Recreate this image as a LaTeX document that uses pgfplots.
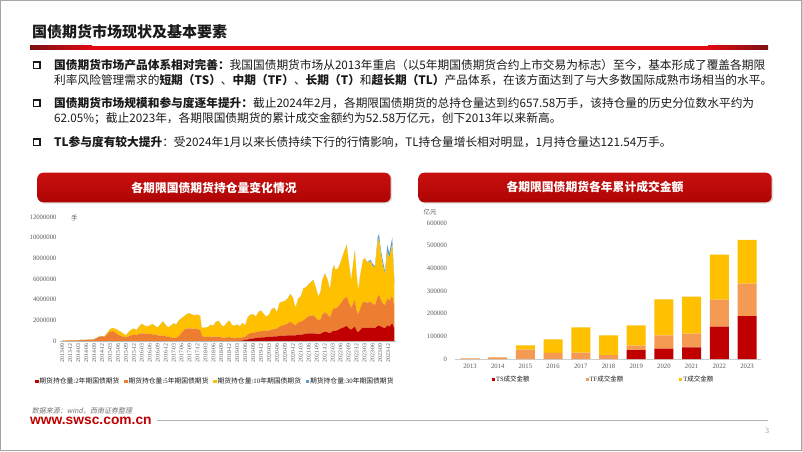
\documentclass[border=0pt]{standalone}
\usepackage{fontspec}
\usepackage{pgfplots}
\usepackage{pgfplotstable}
\pgfplotsset{compat=1.18}
\setmainfont{Liberation Serif}
\newfontfamily\cjk{Noto Sans CJK SC}
\newfontfamily\cjksl[FakeSlant=0.2]{Noto Sans CJK SC}
\newfontfamily\arial{Liberation Sans}
\newfontfamily\tnr{Liberation Serif}
\definecolor{cTS}{HTML}{C00000}
\definecolor{cTF}{HTML}{ED7D31}
\definecolor{cT}{HTML}{FFC000}
\definecolor{cTL}{HTML}{5B9BD5}
\definecolor{cTFb}{HTML}{F59A52}
\definecolor{txt}{HTML}{1A1A1A}
\definecolor{tickc}{HTML}{595959}
\definecolor{brightred}{HTML}{E10A14}
\definecolor{darkred}{HTML}{7A1212}
\definecolor{boxtop}{HTML}{C8100F}
\definecolor{boxbot}{HTML}{AE0404}

\pgfplotstableread{
m ts tf t tl
0 0 30000 20000 0
1 0 40000 20000 0
2 0 50000 20000 0
3 0 50000 20000 0
4 0 60000 20000 0
5 0 60000 20000 0
6 0 70000 20000 0
7 0 80000 20000 0
8 0 90000 20000 0
9 0 100000 20000 0
10 0 120000 20000 0
11 0 130000 20000 0
12 0 160000 20000 0
13 0 280000 20000 0
14 0 420000 30000 0
15 0 450000 30000 0
16 0 420000 60000 0
17 0 650000 150000 0
18 0 920000 230000 0
19 0 950000 300000 0
20 0 800000 380000 0
21 0 620000 430000 0
22 0 500000 400000 0
23 0 400000 320000 0
24 0 350000 200000 0
25 0 450000 400000 0
26 0 550000 550000 0
27 0 600000 600000 0
28 0 550000 500000 0
29 0 700000 700000 0
30 0 750000 900000 0
31 0 720000 780000 0
32 0 700000 700000 0
33 0 680000 820000 0
34 0 650000 1000000 0
35 0 620000 830000 0
36 0 550000 750000 0
37 0 500000 1100000 0
38 0 550000 1350000 0
39 0 450000 1100000 0
40 0 400000 900000 0
41 0 350000 1150000 0
42 0 300000 1400000 0
43 0 300000 1300000 0
44 0 450000 1550000 0
45 0 800000 1400000 0
46 0 1100000 1300000 0
47 0 1200000 1400000 0
48 0 1230000 1450000 0
49 0 1200000 1350000 0
50 0 1200000 1300000 0
51 0 1150000 1400000 0
52 0 1100000 1350000 0
52.6 0 600000 650000 0
53 0 450000 850000 0
54 0 400000 900000 0
55 0 400000 950000 0
56 0 420000 1150000 0
57 0 420000 1050000 0
58 0 420000 1450000 0
59 0 400000 1550000 0
60 0 350000 1200000 0
61 0 330000 1070000 0
62 0 350000 1400000 0
63 0 380000 1600000 0
64 0 300000 1250000 0
65 0 280000 1200000 0
66 0 300000 1300000 0
67 0 320000 1100000 0
68 50000 300000 1400000 0
69 100000 300000 1100000 0
70 150000 500000 1650000 0
71 200000 550000 1800000 0
72 250000 550000 1800000 0
73 280000 570000 1500000 0
74 300000 600000 1900000 0
75 350000 600000 2000000 0
76 350000 600000 1650000 0
77 380000 620000 1350000 0
78 400000 600000 1550000 0
79 420000 680000 2000000 0
80 450000 700000 2050000 0
81 450000 750000 1600000 0
82 480000 920000 2300000 0
83 500000 1000000 2300000 0
84 520000 1050000 2300000 0
85 540000 1150000 2400000 0
86 550000 1300000 2700000 0
87 550000 1150000 2500000 0
88 550000 950000 1700000 0
89 600000 1200000 2300000 0
90 620000 1230000 2450000 0
91 650000 1350000 3100000 0
92 700000 1500000 3000000 0
93 750000 1650000 3100000 0
94.7 750000 1750000 3400000 0
95.5 700000 1600000 3000000 0
96.6 650000 1350000 2300000 0
97.5 700000 1400000 2700000 0
98 800000 1700000 3300000 0
99.1 900000 1900000 3750000 0
100 850000 1750000 3400000 0
101 750000 1550000 2700000 0
102 950000 2050000 4000000 0
102.6 1000000 2200000 4150000 0
103 1000000 2100000 3800000 0
104 1050000 2250000 3700000 0
105 1200000 2400000 4000000 0
106 1300000 2700000 4400000 0
107.3 1450000 2850000 5000000 0
108 1250000 2550000 4000000 0
109 1100000 2100000 2700000 0
110.4 1400000 2600000 4800000 0
111 1000000 2000000 3500000 0
111.7 850000 1750000 2300000 0
112.5 1100000 2100000 3300000 0
113.5 1300000 2500000 4100000 0
114.2 1300000 2500000 4200000 0
115 1250000 2450000 3900000 50000
116.4 1300000 2500000 3900000 150000
117 1250000 2350000 3700000 200000
118 1250000 2250000 3600000 150000
119 1450000 2850000 5300000 400000
119.5 1500000 3000000 5400000 500000
120.2 1400000 2600000 4400000 400000
121 1300000 2300000 3700000 400000
121.8 1250000 2250000 2900000 300000
122.6 1500000 2600000 4600000 600000
123.4 1400000 2500000 4100000 500000
124.5 1700000 2700000 5000000 600000
125.3 1200000 2100000 2300000 300000
}\oidata

\pgfplotstableread{
i ts tf t
0 0 2500 500
1 0 7000 500
2 0 41000 19000
3 0 26500 60000
4 0 28000 111700
5 0 17600 86800
6 39700 19100 89700
7 45600 58800 158800
8 51500 60300 163200
9 142600 119200 198500
10 189700 142700 193400
}\amtdata

\begin{document}
\begin{tikzpicture}
\begin{scope}[x=1pt,y=1pt]
\useasboundingbox (0,0) rectangle (802,451);
\fill[white] (0,0) rectangle (802,451);
\draw[gray!70, line width=1pt] (0.5,0.5) rectangle (801.5,450.5);

% title
\node[anchor=west, inner sep=0pt, text=txt, font=\cjk\bfseries\fontsize{15}{18}\selectfont] at (32,419.3) {国债期货市场现状及基本要素};
\fill[brightred] (30,401.5) rectangle (768,405);
\shade[left color=darkred, right color=brightred] (30,401.5) rectangle (92,405);
\shade[left color=brightred, right color=darkred] (708,401.5) rectangle (768,405);

% bullets
\foreach \yy in {386,348,309} {\draw[txt, line width=1.4pt] (33.4,\yy-3.2) rectangle (39.8,\yy+3.2);}
\begin{scope}[every node/.style={anchor=west, inner sep=0pt, text=txt, font=\cjk\fontsize{11.7}{14}\selectfont}]
\node at (54,386) {\textbf{国债期货市场产品体系相对完善：}我国国债期货市场从2013年重启（以5年期国债期货合约上市交易为标志）至今，基本形成了覆盖各期限};
\node at (54,370.5) {利率风险管理需求的\textbf{短期（TS）}、\textbf{中期（TF）}、\textbf{长期（T）}和\textbf{超长期（TL）}产品体系，在该方面达到了与大多数国际成熟市场相当的水平。};
\node at (54,348) {\textbf{国债期货市场规模和参与度逐年提升：}截止2024年2月，各期限国债期货的总持仓量达到约657.58万手，该持仓量的历史分位数水平约为};
\node at (54,332.5) {62.05\%；截止2023年，各期限国债期货的累计成交金额约为52.58万亿元，创下2013年以来新高。};
\node at (54,309) {\textbf{TL参与度有较大提升}：受2024年1月以来长债持续下行的行情影响，TL持仓量增长相对明显，1月持仓量达121.54万手。};
\end{scope}

% chart title boxes
\fill[gray!25, rounded corners=6pt] (38.8,247.4) rectangle (392.2,277.0);
\shade[top color=boxtop, bottom color=boxbot, rounded corners=6pt] (37.3,248.7) rectangle (390.7,278.3);
\node[text=white, font=\cjk\bfseries\fontsize{11.8}{14}\selectfont] at (214,263.5) {各期限国债期货持仓量变化情况};
\fill[gray!25, rounded corners=6pt] (419.8,247.4) rectangle (773.2,277.0);
\shade[top color=boxtop, bottom color=boxbot, rounded corners=6pt] (418.3,248.7) rectangle (771.7,278.3);
\node[text=white, font=\cjk\bfseries\fontsize{11.8}{14}\selectfont] at (595,263.5) {各期限国债期货各年累计成交金额};

% unit labels
\node[text=tickc, font=\cjk\fontsize{6.5}{7}\selectfont] at (74.3,233.3) {手};
\node[text=tickc, font=\cjk\fontsize{6.5}{7}\selectfont] at (430,238.7) {亿元};

% footer
\node[anchor=west, inner sep=0pt, text=gray!90!black, font=\cjksl\fontsize{7}{8}\selectfont] at (31.7,40) {数据来源：wind，西南证券整理};
\node[anchor=west, inner sep=0pt, text=cTS, font=\arial\bfseries\fontsize{13.8}{15}\selectfont] at (30,30) {www.swsc.com.cn};
\draw[gray!60, line width=0.7pt] (157,30.3) -- (768,30.3);
\node[text=gray!80, font=\tnr\fontsize{8}{9}\selectfont] at (767,20.3) {3};
\end{scope}

% left chart
\begin{axis}[
  at={(59.65pt,110pt)}, anchor=south west,
  scale only axis, width=336.55pt, height=124pt,
  xmin=-1, xmax=126, ymin=0, ymax=12000000,
  scaled y ticks=false, scaled x ticks=false,
  stack plots=y, area style,
  axis lines*=left,
  x axis line style={draw=gray!55, line width=0.5pt, -},
  y axis line style={draw=none},
  major tick length=0pt,
  xtick={0,3,...,123},
  xticklabels={2013-09,2013-12,2014-03,2014-06,2014-09,2014-12,2015-03,2015-06,2015-09,2015-12,2016-03,2016-06,2016-09,2016-12,2017-03,2017-06,2017-09,2017-12,2018-03,2018-06,2018-09,2018-12,2019-03,2019-06,2019-09,2019-12,2020-03,2020-06,2020-09,2020-12,2021-03,2021-06,2021-09,2021-12,2022-03,2022-06,2022-09,2022-12,2023-03,2023-06,2023-09,2023-12},
  ytick={0,2000000,4000000,6000000,8000000,10000000,12000000},
  yticklabels={0,2000000,4000000,6000000,8000000,10000000,12000000},
  tick label style={text=tickc},
  xticklabel style={font=\tnr\fontsize{5.8}{6}\selectfont, rotate=90, anchor=east, inner xsep=2pt, inner ysep=0pt},
  yticklabel style={font=\tnr\fontsize{6.7}{7}\selectfont, anchor=east, inner sep=0pt, xshift=-3pt},
  legend columns=4,
  legend style={at={(-0.0732,-0.328)}, anchor=west, draw=none, fill=none, inner sep=0pt,
    font=\cjk\fontsize{6.8}{8}\selectfont, text=txt,
    /tikz/every even column/.append style={column sep=4pt},
    nodes={inner sep=0.8pt}},
  legend image code/.code={\fill[#1] (0pt,-1.7pt) rectangle (3.4pt,1.7pt);},
]
\addplot[draw=none, fill=cTS] table[x=m, y=ts] {\oidata} \closedcycle;
\addlegendentry{期货持仓量{\tnr :2}年期国债期货}
\addplot[draw=none, fill=cTF] table[x=m, y=tf] {\oidata} \closedcycle;
\addlegendentry{期货持仓量{\tnr :5}年期国债期货}
\addplot[draw=none, fill=cT] table[x=m, y=t] {\oidata} \closedcycle;
\addlegendentry{期货持仓量{\tnr :10}年期国债期货}
\addplot[draw=none, fill=cTL] table[x=m, y=tl] {\oidata} \closedcycle;
\addlegendentry{期货持仓量{\tnr :30}年期国债期货}
\end{axis}

% right chart
\begin{axis}[
  at={(454.77pt,92pt)}, anchor=south west,
  scale only axis, width=306.08pt, height=136pt,
  xmin=-0.55, xmax=10.5, ymin=0, ymax=600000,
  scaled y ticks=false, scaled x ticks=false,
  enlarge x limits=false,
  ybar stacked, bar width=19pt,
  axis lines*=left,
  x axis line style={draw=gray!40, line width=0.6pt, -},
  y axis line style={draw=none},
  major tick length=0pt,
  xtick={0,1,2,3,4,5,6,7,8,9,10},
  xticklabels={2013,2014,2015,2016,2017,2018,2019,2020,2021,2022,2023},
  ytick={0,100000,200000,300000,400000,500000,600000},
  yticklabels={0,100000,200000,300000,400000,500000,600000},
  tick label style={text=tickc},
  xticklabel style={font=\tnr\fontsize{6.7}{7}\selectfont, anchor=north, inner sep=0pt, yshift=-5.3pt},
  yticklabel style={font=\tnr\fontsize{6.7}{7}\selectfont, anchor=east, inner sep=0pt, xshift=-7.5pt},
  legend columns=3,
  legend style={at={(0.1207,-0.149)}, anchor=west, draw=none, fill=none, inner sep=0pt,
    font=\cjk\fontsize{6.5}{8}\selectfont, text=txt,
    /tikz/every even column/.append style={column sep=55pt},
    nodes={inner sep=0.8pt}},
  legend image code/.code={\fill[#1] (0pt,-1.7pt) rectangle (3.4pt,1.7pt);},
]
\addplot[draw=none, fill=cTS] table[x=i, y=ts] {\amtdata};
\addlegendentry{{\tnr TS}成交金额}
\addplot[draw=none, fill=cTFb] table[x=i, y=tf] {\amtdata};
\addlegendentry{{\tnr TF}成交金额}
\addplot[draw=none, fill=cT] table[x=i, y=t] {\amtdata};
\addlegendentry{{\tnr T}成交金额}
\end{axis}
\end{tikzpicture}
\end{document}
